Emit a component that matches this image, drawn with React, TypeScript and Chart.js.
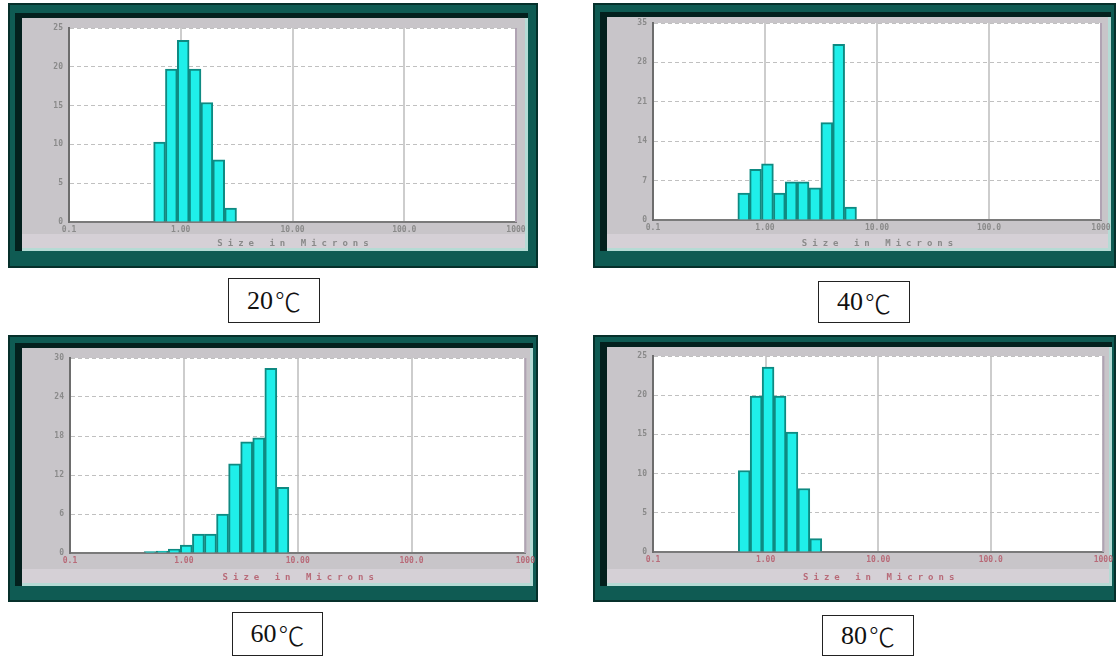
import React, { useEffect, useRef } from "react";
import { Chart, registerables } from "chart.js";

Chart.register(...registerables);

// ---- shared axis data ----
const xTickValues = [0.1, 1, 10, 100, 1000];
const xTickLabels = ["0.1", "1.00", "10.00", "100.0", "1000"];
const xAxisTitle = "Size in Microns";
const tempLabels = ["20℃", "40℃", "60℃", "80℃"];

// ---- 20℃ ----
const sizes20 = [0.646, 0.824, 1.052, 1.343, 1.714, 2.188, 2.793];
const values20 = [10.3, 19.7, 23.4, 19.7, 15.4, 8.0, 1.8];
const yTicks20 = [0, 5, 10, 15, 20, 25];

// ---- 40℃ ----
const sizes40 = [0.646, 0.824, 1.052, 1.343, 1.714, 2.188, 2.793, 3.565, 4.55, 5.808];
const values40 = [4.8, 9.0, 10.0, 4.8, 6.8, 6.8, 5.7, 17.3, 31.2, 2.3];
const yTicks40 = [0, 7, 14, 21, 28, 35];

// ---- 60℃ ----
const sizes60 = [0.506, 0.646, 0.824, 1.052, 1.343, 1.714, 2.188, 2.793, 3.565, 4.55, 5.808, 7.413];
const values60 = [0.2, 0.3, 0.6, 1.2, 2.9, 2.9, 6.0, 13.7, 17.1, 17.7, 28.4, 10.1];
const yTicks60 = [0, 6, 12, 18, 24, 30];

// ---- 80℃ ----
const sizes80 = [0.646, 0.824, 1.052, 1.343, 1.714, 2.188, 2.793];
const values80 = [10.4, 19.9, 23.6, 19.9, 15.3, 8.1, 1.7];
const yTicks80 = [0, 5, 10, 15, 20, 25];

type Rect = { l: number; t: number; r: number; b: number };
type Spec = {
  frame: { x: number; y: number; w: number; h: number };
  gray: Rect;
  plot: Rect;
  sizes: number[];
  values: number[];
  yTicks: number[];
  xTextColor: string;
  titleY: number;
};

const specs: Spec[] = [
  {
    frame: { x: 8, y: 3, w: 530, h: 265 },
    gray: { l: 22, t: 18, r: 525, b: 248 },
    plot: { l: 69, t: 28, r: 516, b: 222 },
    sizes: sizes20, values: values20, yTicks: yTicks20,
    xTextColor: "#8a8a8a", titleY: 244,
  },
  {
    frame: { x: 593, y: 3, w: 523, h: 265 },
    gray: { l: 607, t: 17, r: 1108, b: 248 },
    plot: { l: 653, t: 23, r: 1101, b: 220 },
    sizes: sizes40, values: values40, yTicks: yTicks40,
    xTextColor: "#8a8a8a", titleY: 244,
  },
  {
    frame: { x: 8, y: 335, w: 530, h: 267 },
    gray: { l: 22, t: 348, r: 530, b: 583 },
    plot: { l: 70, t: 358, r: 528, b: 553 },
    sizes: sizes60, values: values60, yTicks: yTicks60,
    xTextColor: "#b86a78", titleY: 578,
  },
  {
    frame: { x: 593, y: 335, w: 523, h: 267 },
    gray: { l: 607, t: 347, r: 1109, b: 583 },
    plot: { l: 653, t: 356, r: 1104, b: 552 },
    sizes: sizes80, values: values80, yTicks: yTicks80,
    xTextColor: "#b86a78", titleY: 578,
  },
];

const labelBoxes = [
  { x: 228, y: 278, w: 92, h: 45 },
  { x: 818, y: 281, w: 92, h: 42 },
  { x: 232, y: 612, w: 91, h: 44 },
  { x: 822, y: 615, w: 92, h: 41 },
];

const tickFont = { family: '"DejaVu Sans Mono", monospace', size: 8, weight: "bold" as const };

function Panel({ spec }: { spec: Spec }) {
  const ref = useRef<HTMLCanvasElement>(null);
  useEffect(() => {
    const canvas = ref.current!;
    const { frame, gray, plot } = spec;
    const YW = 40;
    const XH = 22;
    const pl = plot.l - frame.x;
    const pt = plot.t - frame.y;
    const pr = plot.r - frame.x;
    const pb = plot.b - frame.y;
    const g = { l: gray.l - frame.x, t: gray.t - frame.y, r: gray.r - frame.x, b: gray.b - frame.y };

    const framePlugin = {
      id: "frame",
      beforeDraw(chart: any) {
        const ctx = chart.ctx as CanvasRenderingContext2D;
        ctx.save();
        ctx.fillStyle = "#0f5b53";
        ctx.fillRect(0, 0, frame.w, frame.h);
        ctx.strokeStyle = "#06302b";
        ctx.lineWidth = 2;
        ctx.strokeRect(1, 1, frame.w - 2, frame.h - 2);
        ctx.fillStyle = "#03201d";
        ctx.fillRect(g.l - 7, g.t - 5, g.r + 3 - (g.l - 7), g.b + 3 - (g.t - 5));
        ctx.fillStyle = "#b5dbd5";
        ctx.fillRect(g.l, g.t, g.r + 3 - g.l, g.b + 3 - g.t);
        ctx.fillStyle = "#c8c5c9";
        ctx.fillRect(g.l, g.t, g.r - g.l, g.b - g.t);
        ctx.fillStyle = "#d5d0d6";
        ctx.fillRect(g.l, g.b - 14, g.r - g.l, 14);
        const a = chart.chartArea;
        ctx.fillStyle = "#ffffff";
        ctx.fillRect(a.left, a.top, a.right - a.left, a.bottom - a.top);
        ctx.restore();
      },
      afterDraw(chart: any) {
        const ctx = chart.ctx as CanvasRenderingContext2D;
        const a = chart.chartArea;
        ctx.save();
        ctx.strokeStyle = "#b0a3b3";
        ctx.lineWidth = 2;
        ctx.beginPath();
        ctx.moveTo(a.right, a.top);
        ctx.lineTo(a.right, a.bottom);
        ctx.stroke();
        ctx.font = 'bold 9px "DejaVu Sans Mono", monospace';
        (ctx as any).letterSpacing = "5px";
        ctx.fillStyle = spec.xTextColor;
        ctx.textAlign = "center";
        ctx.textBaseline = "middle";
        ctx.fillText(xAxisTitle, (a.left + a.right) / 2 + 3, spec.titleY - frame.y);
        ctx.restore();
      },
    };

    const chart = new Chart(canvas, {
      type: "bar",
      data: {
        datasets: [
          {
            data: spec.sizes.map((s, i) => ({ x: s, y: spec.values[i] })),
            backgroundColor: "#1fefea",
            borderColor: "#0e8a82",
            borderWidth: 2,
            borderSkipped: "start",
            barPercentage: 1,
            categoryPercentage: 1,
          } as any,
        ],
      },
      options: {
        responsive: false,
        animation: false,
        layout: {
          padding: { left: pl - YW, top: pt, right: frame.w - pr, bottom: frame.h - pb - XH },
        },
        plugins: { legend: { display: false }, tooltip: { enabled: false } },
        scales: {
          x: {
            type: "logarithmic",
            min: 0.1,
            max: 1000,
            offset: false,
            afterBuildTicks: (s: any) => {
              s.ticks = xTickValues.map((v) => ({ value: v }));
            },
            afterFit: (s: any) => {
              s.height = XH;
            },
            grid: { color: "#cdcdcd", lineWidth: 2, drawTicks: false, offset: false },
            border: { display: true, color: "#7a7a7a", width: 2 },
            ticks: {
              autoSkip: false,
              maxRotation: 0,
              minRotation: 0,
              padding: 3,
              color: spec.xTextColor,
              font: tickFont,
              callback: (_v: any, i: number) => xTickLabels[i],
            },
          },
          y: {
            type: "linear",
            min: 0,
            max: spec.yTicks[spec.yTicks.length - 1],
            afterBuildTicks: (s: any) => {
              s.ticks = spec.yTicks.map((v) => ({ value: v }));
            },
            afterFit: (s: any) => {
              s.width = YW;
            },
            grid: { color: "#c0c0c0", lineWidth: 1, drawTicks: false },
            border: { display: true, color: "#6d6d6d", width: 2, dash: [4, 3] },
            ticks: { padding: 6, color: "#8a8a8a", font: tickFont },
          },
        },
      } as any,
      plugins: [framePlugin],
    });
    return () => chart.destroy();
  }, [spec]);

  return (
    <canvas
      ref={ref}
      width={spec.frame.w}
      height={spec.frame.h}
      style={{
        position: "absolute",
        left: spec.frame.x,
        top: spec.frame.y,
        width: spec.frame.w,
        height: spec.frame.h,
      }}
    />
  );
}

export default function App() {
  return (
    <div
      style={{
        position: "absolute",
        left: 0,
        top: 0,
        width: 1116,
        height: 656,
        background: "#ffffff",
        overflow: "hidden",
      }}
    >
      {specs.map((s, i) => (
        <Panel key={i} spec={s} />
      ))}
      {labelBoxes.map((b, i) => (
        <div
          key={"l" + i}
          style={{
            position: "absolute",
            left: b.x,
            top: b.y,
            width: b.w,
            height: b.h,
            boxSizing: "border-box",
            border: "1px solid #222",
            display: "flex",
            alignItems: "center",
            justifyContent: "center",
            fontFamily: '"Liberation Serif", serif',
            fontSize: 26,
            color: "#111",
            background: "#fff",
          }}
        >
          {tempLabels[i].split("").map((ch, j) => (
            <span
              key={j}
              style={
                ch === "℃"
                  ? { fontFamily: '"Noto Sans CJK KR", "Liberation Serif", serif', fontWeight: 300, marginLeft: 2 }
                  : undefined
              }
            >
              {ch}
            </span>
          ))}
        </div>
      ))}
    </div>
  );
}
